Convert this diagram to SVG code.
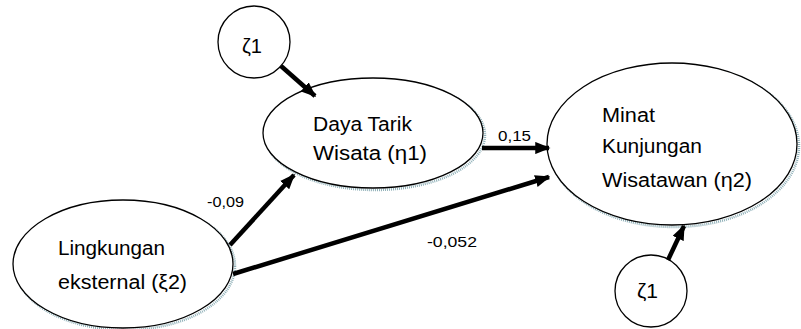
<svg xmlns="http://www.w3.org/2000/svg" width="801" height="329" viewBox="0 0 801 329">
  <defs>
    <marker id="head" viewBox="0 0 10 8" refX="9" refY="4" markerWidth="3.4" markerHeight="2.8" orient="auto" markerUnits="strokeWidth">
      <path d="M0,0 L10,4 L0,8 z" fill="#000"/>
    </marker>
  </defs>
  <style>
    .node { fill: #fff; stroke: #000; stroke-width: 1.3; }
    .shadow { fill: none; stroke: #8fb0b8; stroke-width: 2.5; stroke-dasharray: 1 1; }
    .lbl { font-family: "Liberation Sans", Arial, sans-serif; font-size: 20px; fill: #000; }
    .num { font-family: "Liberation Sans", Arial, sans-serif; font-size: 15px; fill: #000; }
    .edge { stroke: #000; stroke-width: 4.5; fill: none; marker-end: url(#head); }
  </style>
  <rect width="801" height="329" fill="#fff"/>

  <g id="zeta-top">
    <circle class="node" cx="254" cy="42" r="36"/>
    <text class="lbl" x="242" y="53" textLength="20" lengthAdjust="spacingAndGlyphs">ζ1</text>
  </g>

  <g id="daya-tarik">
    <ellipse class="shadow" cx="375" cy="135" rx="110" ry="55"/>
    <ellipse class="node" cx="373" cy="133" rx="110" ry="55"/>
    <text class="lbl" x="313" y="131" textLength="99" lengthAdjust="spacingAndGlyphs">Daya Tarik</text>
    <text class="lbl" x="313" y="160" textLength="114" lengthAdjust="spacingAndGlyphs">Wisata (η1)</text>
  </g>

  <g id="minat">
    <ellipse class="shadow" cx="674" cy="146" rx="125" ry="81"/>
    <ellipse class="node" cx="672" cy="144" rx="125" ry="81"/>
    <text class="lbl" x="602" y="122" textLength="53" lengthAdjust="spacingAndGlyphs">Minat</text>
    <text class="lbl" x="602" y="153" textLength="100" lengthAdjust="spacingAndGlyphs">Kunjungan</text>
    <text class="lbl" x="602" y="187" textLength="150" lengthAdjust="spacingAndGlyphs">Wisatawan (η2)</text>
  </g>

  <g id="lingkungan">
    <ellipse class="shadow" cx="125" cy="266" rx="110" ry="64"/>
    <ellipse class="node" cx="123" cy="264" rx="110" ry="64"/>
    <text class="lbl" x="58" y="255" textLength="107" lengthAdjust="spacingAndGlyphs">Lingkungan</text>
    <text class="lbl" x="58" y="289" textLength="129" lengthAdjust="spacingAndGlyphs">eksternal (ξ2)</text>
  </g>

  <g id="zeta-bottom">
    <circle class="node" cx="651" cy="291" r="36"/>
    <text class="lbl" x="637" y="298" textLength="21" lengthAdjust="spacingAndGlyphs">ζ1</text>
  </g>

  <g id="connectors">
    <line class="edge" x1="281" y1="66" x2="315" y2="96"/>
    <line class="edge" x1="230" y1="245" x2="294" y2="175"/>
    <line class="edge" x1="233" y1="274" x2="549" y2="177"/>
    <line class="edge" x1="482" y1="148" x2="549" y2="148"/>
    <line class="edge" x1="668" y1="260" x2="684" y2="226"/>
  </g>

  <g id="labels">
    <text class="num" x="207" y="207" textLength="37" lengthAdjust="spacingAndGlyphs">-0,09</text>
    <text class="num" x="498" y="141" textLength="33" lengthAdjust="spacingAndGlyphs">0,15</text>
    <text class="num" x="427" y="247" textLength="50" lengthAdjust="spacingAndGlyphs">-0,052</text>
  </g>
</svg>
